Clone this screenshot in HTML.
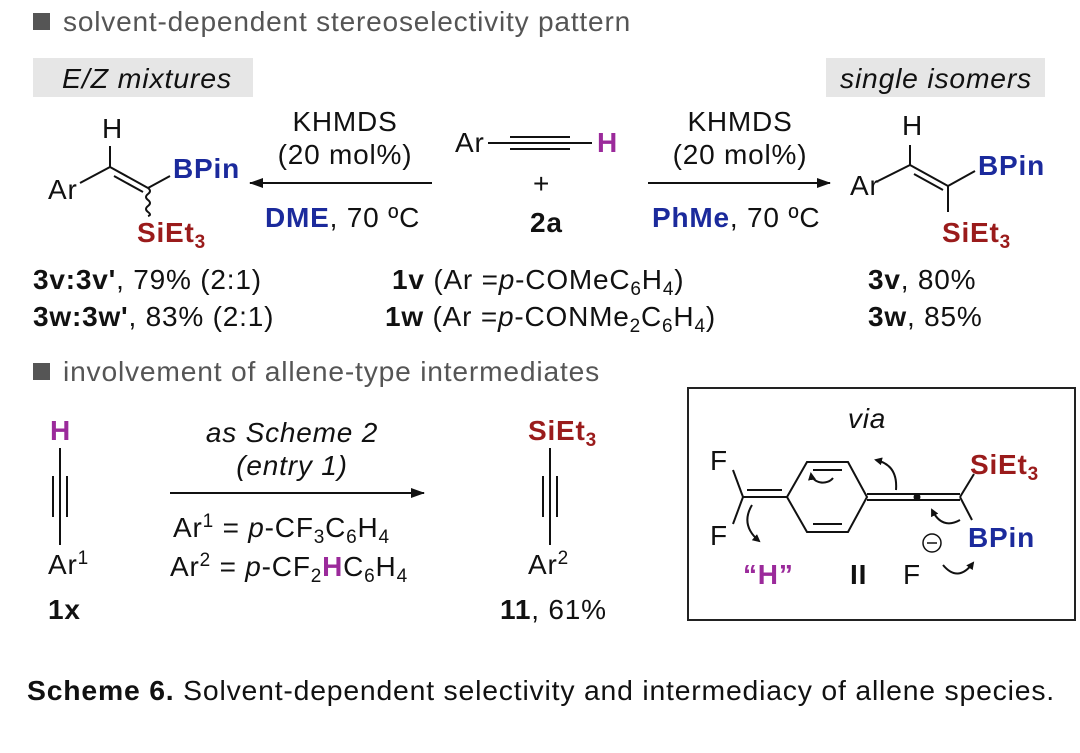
<!DOCTYPE html>
<html><head><meta charset="utf-8"><style>
html,body{margin:0;padding:0;background:#fff;}
svg{display:block;font-family:"Liberation Sans",Arial,sans-serif;}
text{letter-spacing:0.8px}
.b{font-weight:bold}
.bl{fill:#1b2a9c;font-weight:bold}
.rd{fill:#9a1b1b;font-weight:bold}
.pu{fill:#9b2a9b;font-weight:bold}
</style></head><body>
<svg width="1080" height="753" viewBox="0 0 1080 753" font-size="28" fill="#111">
<defs><marker id="ah" markerWidth="14" markerHeight="10" refX="13" refY="5" orient="auto" markerUnits="userSpaceOnUse"><path d="M0,0 L14,5 L0,10 Z" fill="#111"/></marker>
<marker id="ca" markerWidth="8" markerHeight="8" refX="6" refY="4" orient="auto" markerUnits="userSpaceOnUse"><path d="M0,0 L8,4 L0,8 Z" fill="#111"/></marker></defs>
<rect x="33" y="13" width="17" height="17" fill="#555"/>
<text x="63" y="31" fill="#555" textLength="568" lengthAdjust="spacingAndGlyphs">solvent-dependent stereoselectivity pattern</text>
<rect x="33" y="58" width="220" height="39" fill="#e6e6e6"/>
<text x="62" y="88" font-style="italic" textLength="170" lengthAdjust="spacingAndGlyphs">E/Z mixtures</text>
<rect x="826" y="58" width="219" height="39" fill="#e6e6e6"/>
<text x="840" y="88" font-style="italic" textLength="192" lengthAdjust="spacingAndGlyphs">single isomers</text>
<g stroke="#111" stroke-width="2" fill="none">
<line x1="110" y1="146" x2="110" y2="167"/><line x1="80" y1="183" x2="110" y2="167"/>
<line x1="110" y1="167" x2="148" y2="188"/><line x1="114" y1="176" x2="143" y2="192"/>
<line x1="148" y1="188" x2="170" y2="176"/>
<path d="M148,188 q4,3 0,6 q-4,3 0,6 q4,3 0,6 q-4,3 0,6 q4,3 0,4"/>
<line x1="910" y1="145" x2="910" y2="165"/><line x1="878" y1="181" x2="910" y2="165"/>
<line x1="910" y1="165" x2="948" y2="186"/><line x1="914" y1="174" x2="943" y2="190"/>
<line x1="948" y1="186" x2="975" y2="171"/><line x1="948" y1="186" x2="948" y2="212"/>
<line x1="432" y1="183" x2="250" y2="183" marker-end="url(#ah)"/>
<line x1="648" y1="183" x2="830" y2="183" marker-end="url(#ah)"/>
<line x1="488" y1="143" x2="592" y2="143"/><line x1="510" y1="137" x2="570" y2="137"/><line x1="510" y1="149" x2="570" y2="149"/>
</g>
<text x="102" y="138">H</text><text x="48" y="199">Ar</text>
<text x="173" y="178" class="bl">BPin</text>
<text x="137" y="242" class="rd">SiEt<tspan font-size="19" dy="6">3</tspan></text>
<text x="902" y="135">H</text><text x="850" y="195">Ar</text>
<text x="978" y="175" class="bl">BPin</text>
<text x="942" y="242" class="rd">SiEt<tspan font-size="19" dy="6">3</tspan></text>
<text x="345" y="131" text-anchor="middle">KHMDS</text><text x="345" y="164" text-anchor="middle">(20 mol%)</text>
<text x="265" y="227"><tspan class="bl">DME</tspan>, 70 ºC</text>
<text x="740" y="131" text-anchor="middle">KHMDS</text><text x="740" y="164" text-anchor="middle">(20 mol%)</text>
<text x="652" y="227"><tspan class="bl">PhMe</tspan>, 70 ºC</text>
<text x="455" y="152">Ar</text><text x="597" y="152" class="pu">H</text>
<text x="533" y="193">+</text><text x="530" y="232" class="b">2a</text>
<text x="33" y="289"><tspan class="b">3v:3v'</tspan>, 79% (2:1)</text>
<text x="33" y="326"><tspan class="b">3w:3w'</tspan>, 83% (2:1)</text>
<text x="392" y="289"><tspan class="b">1v</tspan> (Ar =<tspan font-style="italic">p</tspan>-COMeC<tspan font-size="19" dy="6">6</tspan><tspan dy="-6">H</tspan><tspan font-size="19" dy="6">4</tspan><tspan dy="-6">)</tspan></text>
<text x="385" y="326"><tspan class="b">1w</tspan> (Ar =<tspan font-style="italic">p</tspan>-CONMe<tspan font-size="19" dy="6">2</tspan><tspan dy="-6">C</tspan><tspan font-size="19" dy="6">6</tspan><tspan dy="-6">H</tspan><tspan font-size="19" dy="6">4</tspan><tspan dy="-6">)</tspan></text>
<text x="868" y="289"><tspan class="b">3v</tspan>, 80%</text>
<text x="868" y="326"><tspan class="b">3w</tspan>, 85%</text>
<rect x="33" y="363" width="17" height="17" fill="#555"/>
<text x="63" y="381" fill="#555" textLength="537" lengthAdjust="spacingAndGlyphs">involvement of allene-type intermediates</text>
<text x="50" y="440" class="pu">H</text>
<g stroke="#111" stroke-width="2" fill="none">
<line x1="60" y1="448" x2="60" y2="545"/><line x1="53" y1="476" x2="53" y2="517"/><line x1="67" y1="476" x2="67" y2="517"/>
<line x1="550" y1="448" x2="550" y2="545"/><line x1="543" y1="476" x2="543" y2="517"/><line x1="557" y1="476" x2="557" y2="517"/>
<line x1="170" y1="493" x2="424" y2="493" marker-end="url(#ah)"/>
</g>
<text x="48" y="574">Ar<tspan font-size="19" dy="-10">1</tspan></text>
<text x="48" y="619" class="b">1x</text>
<text x="292" y="442" text-anchor="middle" font-style="italic">as Scheme 2</text>
<text x="292" y="475" text-anchor="middle" font-style="italic">(entry 1)</text>
<text x="173" y="537">Ar<tspan font-size="19" dy="-10">1</tspan><tspan dy="10"> = </tspan><tspan font-style="italic">p</tspan>-CF<tspan font-size="19" dy="6">3</tspan><tspan dy="-6">C</tspan><tspan font-size="19" dy="6">6</tspan><tspan dy="-6">H</tspan><tspan font-size="19" dy="6">4</tspan></text>
<text x="170" y="576">Ar<tspan font-size="19" dy="-10">2</tspan><tspan dy="10"> = </tspan><tspan font-style="italic">p</tspan>-CF<tspan font-size="19" dy="6">2</tspan><tspan dy="-6" class="pu">H</tspan><tspan>C</tspan><tspan font-size="19" dy="6">6</tspan><tspan dy="-6">H</tspan><tspan font-size="19" dy="6">4</tspan></text>
<text x="528" y="440" class="rd">SiEt<tspan font-size="19" dy="6">3</tspan></text>
<text x="528" y="574">Ar<tspan font-size="19" dy="-10">2</tspan></text>
<text x="500" y="619"><tspan class="b">11</tspan>, 61%</text>
<rect x="688" y="388" width="387" height="232" fill="none" stroke="#222" stroke-width="2"/>
<text x="867" y="428" text-anchor="middle" font-style="italic">via</text>
<text x="710" y="470">F</text><text x="710" y="545">F</text>
<g stroke="#111" stroke-width="2" fill="none">
<line x1="733" y1="470" x2="743" y2="497"/><line x1="733" y1="524" x2="743" y2="497"/>
<line x1="743" y1="497" x2="787" y2="497"/><line x1="747" y1="490" x2="782" y2="490"/>
<path d="M787,497 L807,462 L848,462 L867,497 L848,532 L807,532 Z"/>
<line x1="813" y1="470" x2="842" y2="470"/><line x1="813" y1="524" x2="842" y2="524"/>
<line x1="867" y1="494" x2="960" y2="494"/><line x1="867" y1="500" x2="960" y2="500"/>
<line x1="960" y1="497" x2="974" y2="474"/><line x1="960" y1="497" x2="972" y2="520"/>
<path d="M833,478 a12,10 0 0 1 -22,-4" marker-end="url(#ca)"/>
<path d="M896,490 q2,-25 -20,-30" marker-end="url(#ca)"/>
<path d="M960,520 q-18,10 -28,-10" marker-end="url(#ca)"/>
<path d="M752,505 q-12,20 7,36" marker-end="url(#ca)"/>
<path d="M943,565 q15,18 30,-2" marker-end="url(#ca)"/>
<circle cx="932" cy="543" r="9" stroke-width="1.5"/><line x1="927" y1="543" x2="937" y2="543" stroke-width="1.5"/>
</g>
<circle cx="917" cy="497" r="3.5" fill="#111"/>
<text x="970" y="474" class="rd">SiEt<tspan font-size="19" dy="6">3</tspan></text>
<text x="968" y="547" class="bl">BPin</text>
<text x="743" y="584" class="pu">“H”</text>
<text x="850" y="584" class="b">II</text>
<text x="903" y="584">F</text>
<text x="27" y="700" textLength="1028" lengthAdjust="spacingAndGlyphs"><tspan class="b">Scheme 6.</tspan> Solvent-dependent selectivity and intermediacy of allene species.</text>
</svg>
</body></html>
